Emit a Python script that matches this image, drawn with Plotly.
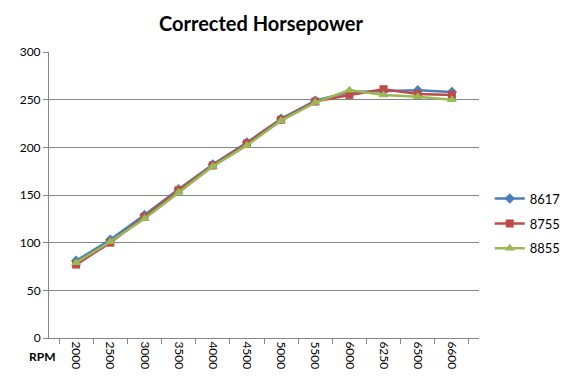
import plotly.graph_objects as go

rpm = ["2000", "2500", "3000", "3500", "4000", "4500", "5000", "5500", "6000", "6250", "6500", "6600"]
hp_8617 = [81, 103, 129, 156, 182, 205, 230, 249, 258, 259, 260, 258]
hp_8755 = [77, 100, 127, 155, 181, 204, 229, 248, 255, 261, 256, 255]
hp_8855 = [79, 101, 125, 153, 180, 202, 228, 247, 260, 255, 253, 250]

series = [
    ("8617", hp_8617, "#4A7EBB", "diamond", 8),
    ("8755", hp_8755, "#BE4B48", "square", 8),
    ("8855", hp_8855, "#98B954", "triangle-up", 9),
]

fig = go.Figure()
for name, vals, color, sym, size in series:
    fig.add_trace(go.Scatter(
        x=rpm, y=vals, name=name, mode="lines+markers", legendgroup=name,
        line=dict(color=color, width=2.5),
        marker=dict(symbol=sym, size=size, color=color),
    ))

fig.update_layout(
    width=570, height=378,
    margin=dict(l=41, r=84, t=44, b=48),
    paper_bgcolor="white", plot_bgcolor="white",
    font=dict(family="Lato, Open Sans, sans-serif", size=12, color="black"),
    showlegend=True,
    legend=dict(x=1.025, xanchor="left", y=0.40, yanchor="middle",
                font=dict(size=13, color="black"), tracegroupgap=5,
                itemwidth=30, bgcolor="rgba(0,0,0,0)"),
    xaxis=dict(type="category", tickangle=90, showgrid=False,
               showline=True, linecolor="#868686", linewidth=1,
               ticks="outside", ticklen=5, tickcolor="#868686",
               tickson="boundaries", tickfont=dict(size=12)),
    yaxis=dict(range=[0, 300], dtick=50, showgrid=True, gridcolor="#868686",
               gridwidth=1, showline=True, linecolor="#868686", linewidth=1,
               ticks="outside", ticklen=5, tickcolor="#868686", zeroline=False,
               tickfont=dict(size=12)),
)

fig.add_annotation(text="<b>Corrected Horsepower</b>", xref="paper", yref="paper",
                   x=(260 - 41) / 445, y=(330 - 15) / 286, xanchor="center",
                   yanchor="middle", showarrow=False,
                   font=dict(family="Lato, Open Sans, sans-serif", size=20, color="black"))

fig.add_annotation(text="<b>RPM</b>", xref="paper", yref="paper",
                   x=-0.052, y=-0.098, showarrow=False,
                   font=dict(size=12, color="black"))

fig.write_html("out.html")
